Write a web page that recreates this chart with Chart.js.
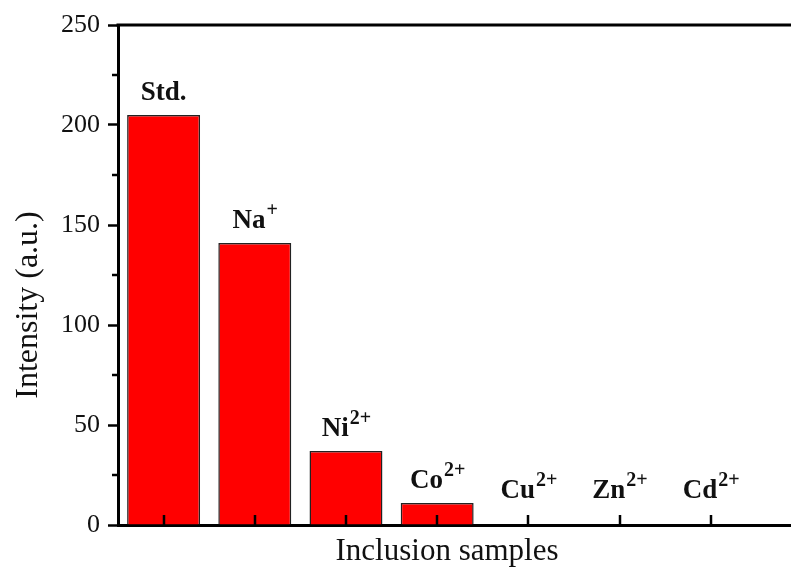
<!DOCTYPE html>
<html>
<head>
<meta charset="utf-8">
<script src="https://cdn.jsdelivr.net/npm/chart.js@4/dist/chart.umd.min.js"></script>
<style>
  html, body { margin: 0; padding: 0; background: #fff; overflow: hidden; }
  #wrap { width: 791px; height: 568px; }
</style>
</head>
<body>
<div id="wrap"><canvas id="c" width="791" height="568"></canvas></div>
<script>
// ---- data ----
const categories = ['Std.', 'Na', 'Ni', 'Co', 'Cu', 'Zn', 'Cd'];
const charges    = ['', '+', '2+', '2+', '2+', '2+', '2+'];
const intensity  = [205, 141, 37, 11, 0, 0, 0];
const yTicks     = [0, 50, 100, 150, 200, 250];
const xTitle = 'Inclusion samples';
const yTitle = 'Intensity (a.u.)';

const SERIF = '"Liberation Serif", "Times New Roman", serif';
const INK = '#111';

const decor = {
  id: 'decor',
  afterDraw(chart) {
    const { ctx, chartArea: a, scales: { x, y } } = chart;
    ctx.save();
    ctx.strokeStyle = '#000';
    ctx.lineCap = 'butt';
    // top frame line
    ctx.lineWidth = 3;
    ctx.beginPath(); ctx.moveTo(a.left - 1.5, a.top); ctx.lineTo(a.right, a.top); ctx.stroke();
    // inward category ticks
    ctx.lineWidth = 2.5;
    categories.forEach((c, i) => {
      const px = Math.round(x.getPixelForValue(i + 1));
      ctx.beginPath(); ctx.moveTo(px, a.bottom); ctx.lineTo(px, a.bottom - 10); ctx.stroke();
    });
    // minor y ticks
    for (let k = 0; k < yTicks.length - 1; k++) {
      const v = (yTicks[k] + yTicks[k + 1]) / 2;
      const py = Math.round(y.getPixelForValue(v));
      ctx.beginPath(); ctx.moveTo(a.left - 6, py); ctx.lineTo(a.left, py); ctx.stroke();
    }
    // bar labels with superscript charges
    ctx.fillStyle = INK;
    ctx.textBaseline = 'alphabetic';
    ctx.textAlign = 'left';
    const mainFont = 'bold 27px ' + SERIF;
    const supFont = 'bold 20px ' + SERIF;
    categories.forEach((c, i) => {
      ctx.font = mainFont;
      const w1 = ctx.measureText(c).width;
      ctx.font = supFont;
      const w2 = charges[i] ? ctx.measureText(charges[i]).width : 0;
      const cx = x.getPixelForValue(i + 1);
      const base = y.getPixelForValue(Math.max(intensity[i], 6)) - 15;
      const x0 = cx - (w1 + w2) / 2;
      ctx.font = mainFont;
      ctx.fillText(c, x0, base);
      if (charges[i]) {
        ctx.font = supFont;
        ctx.fillText(charges[i], x0 + w1 + 1, base - 12);
      }
    });
    // axis titles
    ctx.font = '31px ' + SERIF;
    ctx.textAlign = 'center';
    ctx.fillText(xTitle, 447, 560);
    ctx.save();
    ctx.translate(37, 305);
    ctx.rotate(-Math.PI / 2);
    ctx.font = '32px ' + SERIF;
    ctx.fillText(yTitle, 0, 0);
    ctx.restore();
    ctx.restore();
  }
};

new Chart(document.getElementById('c'), {
  type: 'bar',
  data: {
    datasets: [{
      data: intensity.map((v, i) => ({ x: i + 1, y: v })),
      backgroundColor: '#ff0000',
      borderColor: '#222',
      borderWidth: 1.5,
      barPercentage: 0.8,
      categoryPercentage: 1.0
    }]
  },
  options: {
    responsive: false,
    animation: false,
    events: [],
    layout: { padding: { top: 25, left: 0, right: 0, bottom: 0 } },
    plugins: { legend: { display: false }, tooltip: { enabled: false } },
    scales: {
      x: {
        type: 'linear',
        min: 0.5,
        max: 7.88,
        offset: false,
        z: 1,
        afterFit(s) { s.height = 43; },
        afterBuildTicks(s) { s.ticks = categories.map((c, i) => ({ value: i + 1 })); },
        ticks: { display: false },
        grid: { display: true, drawOnChartArea: false, drawTicks: false },
        border: { display: true, width: 3, color: '#000' },
        title: { display: false }
      },
      y: {
        min: 0,
        max: 250,
        z: 1,
        afterFit(s) { s.width = 118; },
        afterBuildTicks(s) { s.ticks = yTicks.map(v => ({ value: v })); },
        ticks: {
          padding: 8,
          color: INK,
          font: { family: SERIF, size: 26 }
        },
        grid: { display: true, drawOnChartArea: false, drawTicks: true, tickLength: 10, tickWidth: 2.5, tickColor: '#000' },
        border: { display: true, width: 3, color: '#000' },
        title: { display: false }
      }
    }
  },
  plugins: [decor]
});
</script>
</body>
</html>
